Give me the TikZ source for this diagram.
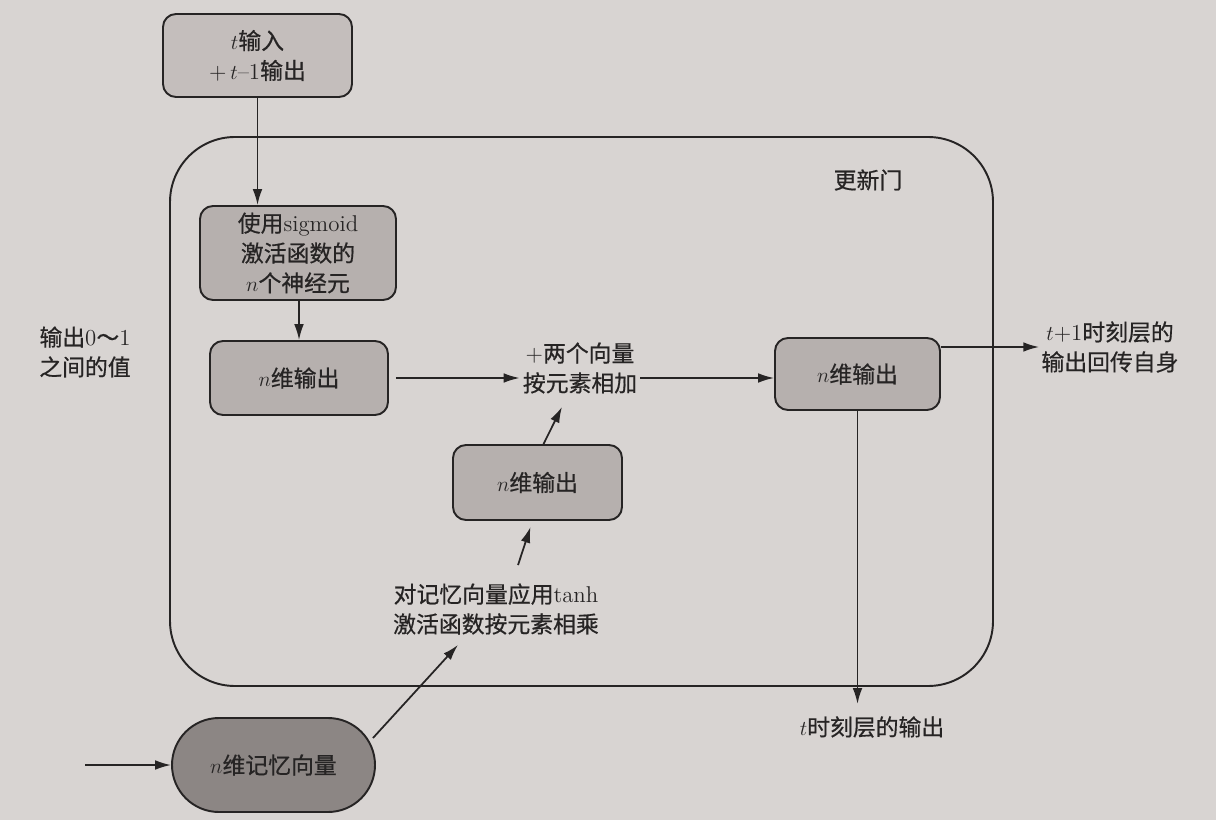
\documentclass[tikz,border=0pt]{standalone}
\usepackage{fontspec}
\newfontfamily\cjk[FakeBold=0.6]{Noto Sans CJK SC}
\usetikzlibrary{arrows.meta,calc}
\definecolor{pagebg}{RGB}{216,212,210}
\definecolor{boxfill}{RGB}{182,176,174}
\definecolor{topfill}{RGB}{196,190,188}
\definecolor{memfill}{RGB}{140,134,132}
\definecolor{ink}{RGB}{38,36,36}
\tikzset{
  stepbox/.style={draw=ink, line width=1.1pt, rounded corners=0.26cm, fill=boxfill, align=center, inner sep=0pt, text=ink},
  lbl/.style={align=center, inner sep=0pt, text=ink},
  arr/.style={draw=ink, line width=1pt, -{Latex[length=9pt,width=5.5pt]}},
}
\begin{document}
\begin{tikzpicture}[x=0.02cm,y=-0.02cm,font=\fontsize{13}{17}\selectfont]
\fill[pagebg] (0,0) rectangle (1216,820);
\useasboundingbox (0,0) rectangle (1216,820);
% update gate frame
\draw[ink, line width=1.1pt, rounded corners=1.3cm] (170,137) rectangle (993,686);
\node[lbl] (gate) at (868,180) {\cjk 更新门};
% boxes
\node[stepbox, fill=topfill, minimum width=189*0.02cm, minimum height=83*0.02cm] (top) at (257.5,55.5) {$t${\cjk 输入}\\+\,$t$--1{\cjk 输出}};
\node[stepbox, minimum width=196*0.02cm, minimum height=94*0.02cm] (sig) at (298,253) {{\cjk 使用}sigmoid\\{\cjk 激活函数的}\\$n${\cjk 个神经元}};
\node[stepbox, minimum width=178*0.02cm, minimum height=74*0.02cm] (out1) at (299,378) {$n${\cjk 维输出}};
\node[stepbox, minimum width=165*0.02cm, minimum height=72*0.02cm] (outR) at (857.5,374) {$n${\cjk 维输出}};
\node[stepbox, minimum width=169*0.02cm, minimum height=75*0.02cm] (mid) at (537.5,482.5) {$n${\cjk 维输出}};
\node[stepbox, fill=memfill, rounded corners=0.94cm, minimum width=203*0.02cm, minimum height=94*0.02cm] (mem) at (273.5,765) {$n${\cjk 维记忆向量}};
% labels
\node[lbl] (range) at (85,352) {{\cjk 输出}0{\cjk ～}1\\{\cjk 之间的值}};
\node[lbl] (plus) at (580,368) {+{\cjk 两个向量}\\{\cjk 按元素相加}};
\node[lbl] (tplus) at (1110,347) {$t$+1{\cjk 时刻层的}\\{\cjk 输出回传自身}};
\node[lbl] (tout) at (872,727) {$t${\cjk 时刻层的输出}};
\node[lbl] (tanh) at (496,609) {{\cjk 对记忆向量应用}tanh\\{\cjk 激活函数按元素相乘}};
\coordinate (in) at (85,765);
% connectors
\draw[arr] (top.south) -- (top.south |- sig.north);
\draw[arr] (sig.south -| out1.north) -- (out1.north);
\draw[arr] ($(out1.east)+(7,0)$) -- ($(plus.west |- out1.east)+(-3,0)$);
\draw[arr] ($(plus.east |- out1.east)+(3,0)$) -- ($(outR.west)+(0,4)$);
\draw[arr] ($(outR.east)+(0,-27)$) -- ($(tplus.west |- outR.east)+(-2,-27)$);
\draw[arr] (outR.south) -- ($(outR.south |- tout.north)+(0,-12)$);
\draw[arr] ($(mid.north)+(6,0)$) -- ($(plus.south)+(-18,13)$);
\draw[arr] ($(tanh.north)+(22,-18)$) -- ($(mid.south)+(-7,6)$);
\draw[arr] ($(mem.east)+(-3,-27)$) -- ($(tanh.south)+(-38,10)$);
\draw[arr] (in) -- (mem.west);
\end{tikzpicture}
\end{document}
